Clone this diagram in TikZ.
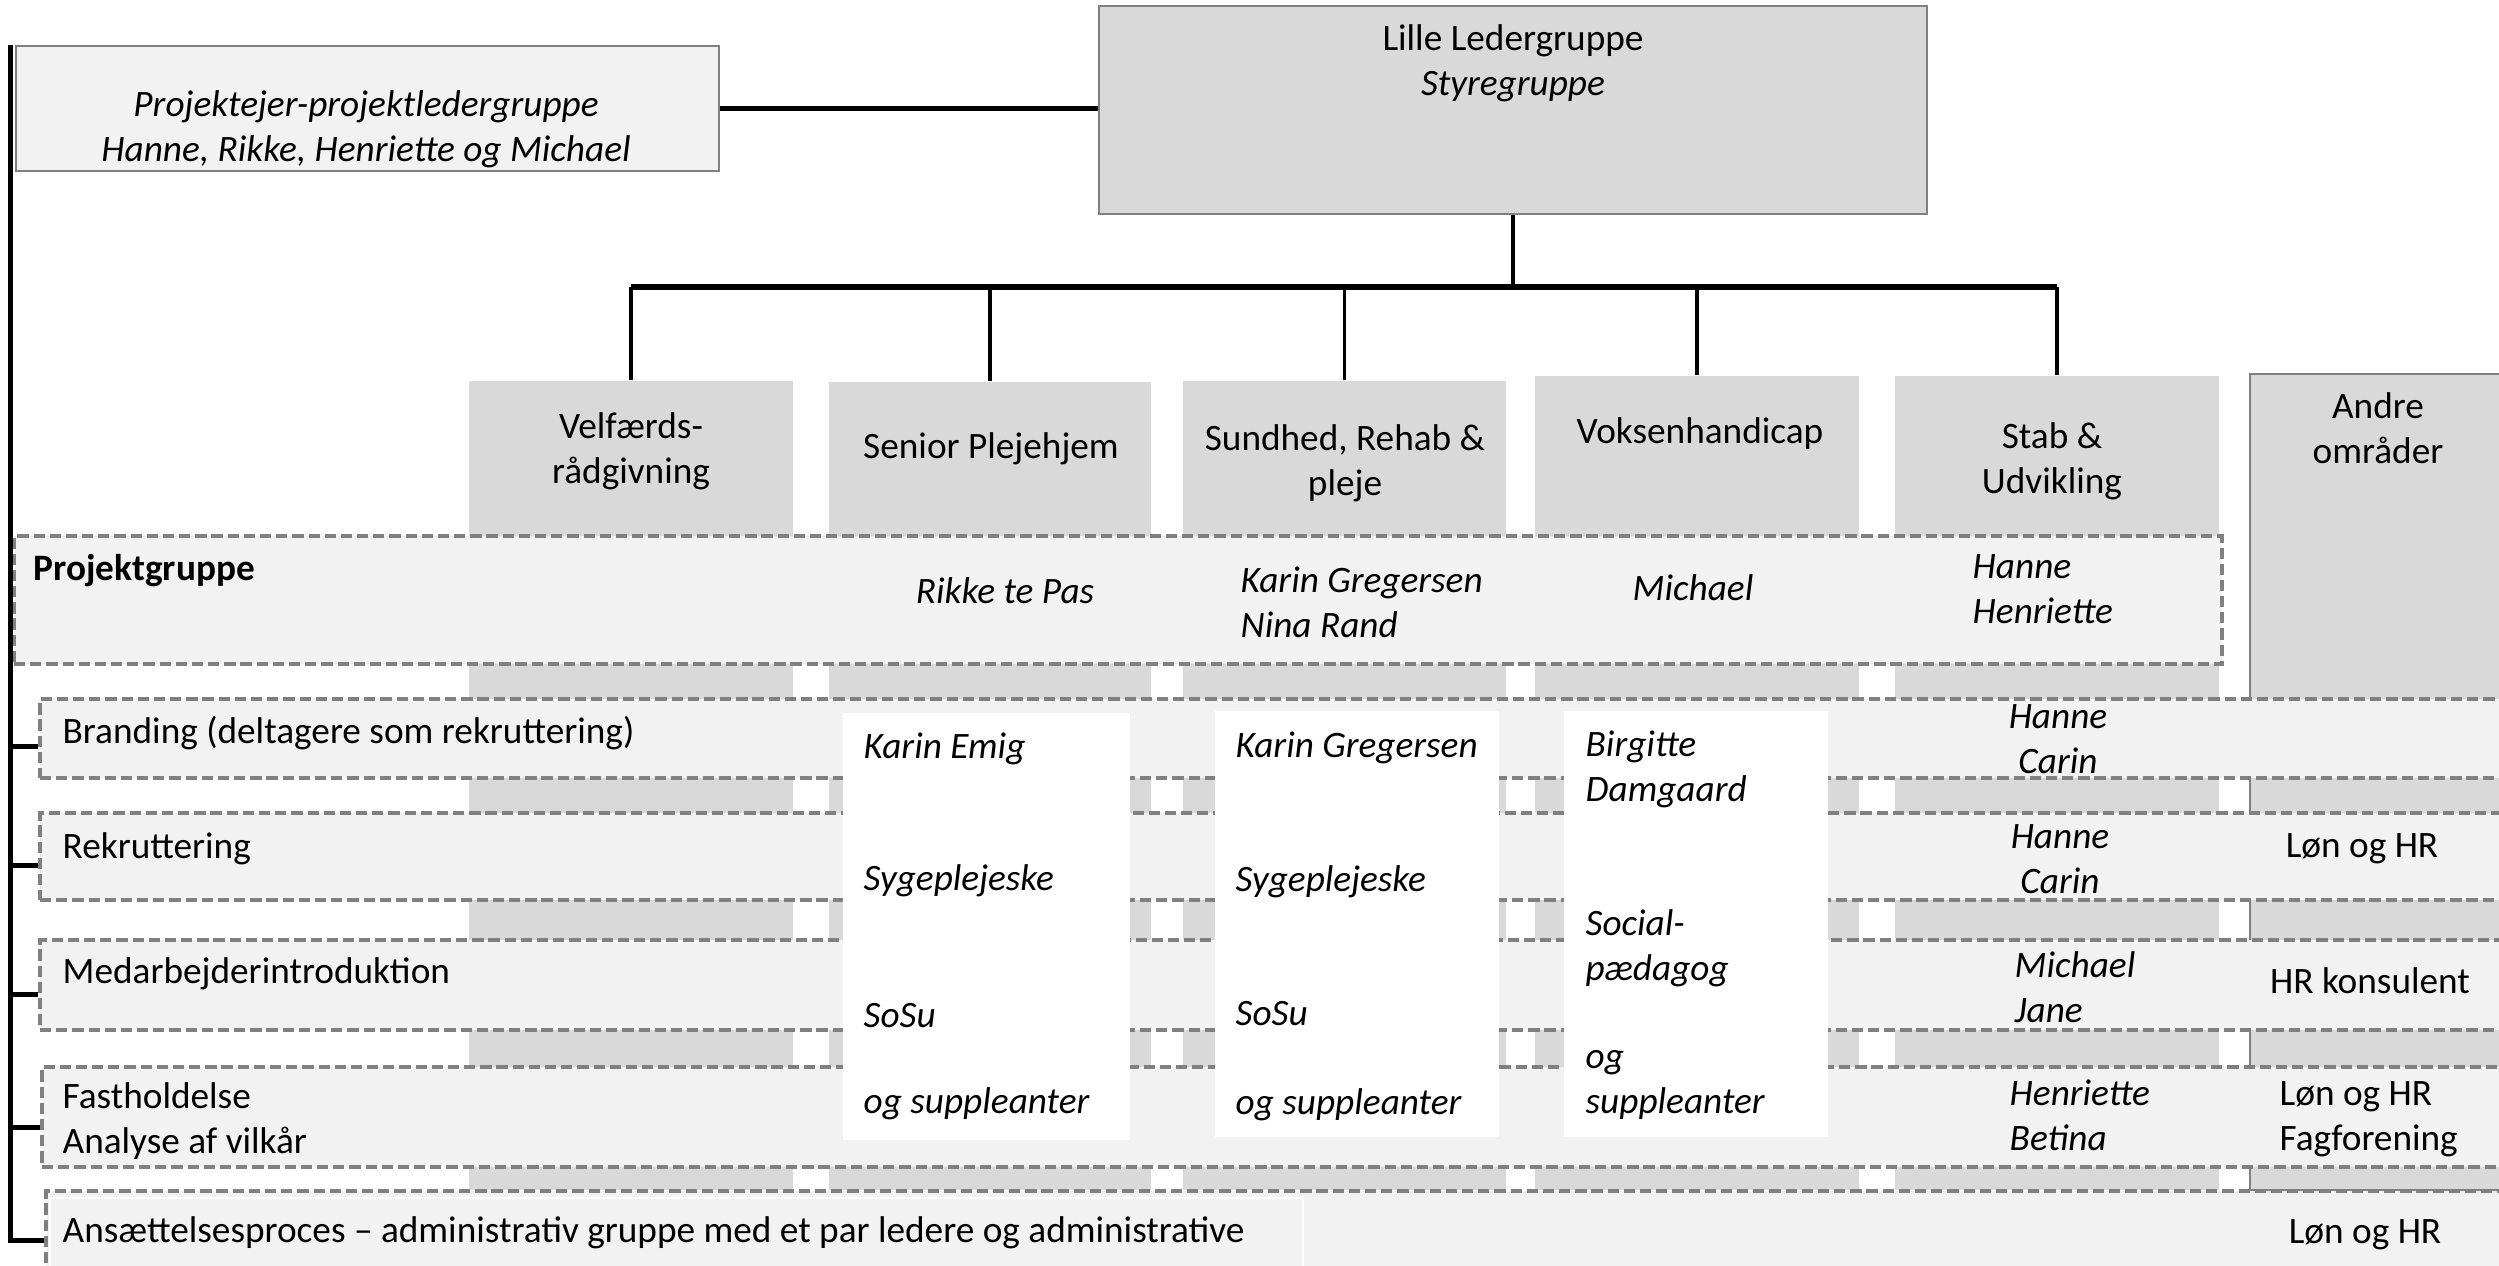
\documentclass[tikz,border=0pt]{standalone}
\usepackage{fontspec}
\setmainfont{Carlito}
\usetikzlibrary{fit,calc}
\definecolor{colgray}{HTML}{D9D9D9}
\definecolor{rowgray}{HTML}{F2F2F2}
\definecolor{linegray}{HTML}{808080}

\begin{document}
\begin{tikzpicture}[
            x = 0.01cm, y = -0.01cm,
            ptxt/.style = {font = \fontsize{10.6pt}{12.6pt}\selectfont, inner sep = 0pt},
            itxt/.style = {ptxt, font = \fontsize{10.6pt}{12.6pt}\selectfont\itshape},
            lft/.style = {anchor = base west, align = left},
            ctr/.style = {anchor = base, align = center},
            col/.style = {fill = colgray, inner sep = 0pt},
            grp/.style = {fill = rowgray, draw = linegray, line width = 1pt, dash pattern = on 3.2pt off 1.4pt, inner sep = 0pt},
            wbox/.style = {fill = white, inner sep = 0pt},
            topbox/.style = {draw = linegray, line width = 0.8pt, inner sep = 0pt},
            link/.style = {draw, line width = 1.4pt},
            drop/.style = {draw, line width = 0.9pt}
        ]
        \useasboundingbox (0,0) rectangle (2499,1265);
        \clip (0,0) rectangle (2499,1265);

        \node[col, fit = {(469,381) (793,1190)}] (velf) {};
        \node[col, fit = {(829,382) (1151,1190)}] (senior) {};
        \node[col, fit = {(1183,381) (1506,1190)}] (sund) {};
        \node[col, fit = {(1535,376) (1859,1190)}] (voks) {};
        \node[col, fit = {(1895,376) (2219,1190)}] (stab) {};
        \node[col, draw = linegray, line width = 0.6pt, fit = {(2250,374) (2530,1190)}] (andre) {};

        \node[grp, fit = {(14,536) (2222,664)}] (pg) {};
        \node[grp, fit = {(40,699) (2530,778)}] (brand) {};
        \node[grp, fit = {(40,813) (2530,900)}] (rekr) {};
        \node[grp, fit = {(40,940) (2530,1030)}] (medarb) {};
        \node[grp, fit = {(42,1067) (2530,1167)}] (fast) {};
        \node[grp, fit = {(46,1191) (2530,1290)}] (ans) {};
        \node[fill = rowgray, draw = white, line width = 0.6pt, inner sep = 0pt, fit = {(50,1198) (1303,1275)}] (ansin) {};

        \node[wbox, fit = {(843,713) (1130,1140)}] (wbsen) {};
        \node[wbox, fit = {(1215,711) (1499,1137)}] (wbsund) {};
        \node[wbox, fit = {(1564,711) (1828,1137)}] (wbvoks) {};

        \node[topbox, fill = rowgray, fit = {(16,46) (719,171)}] (pe) {};
        \node[topbox, fill = colgray, fit = {(1099,6) (1927,214)}] (lille) {};

        \node[itxt, ctr] (pet) at (366,161) {Projektejer-projektledergruppe\\Hanne, Rikke, Henriette og Michael};
        \node[ptxt, ctr] (llt) at (1513,95) {Lille Ledergruppe\\\textit{Styregruppe}};

        \node[ptxt, ctr] (velft) at (631,483) {Velfærds-\\rådgivning};
        \node[ptxt, ctr] (sent) at (991,458) {Senior Plejehjem};
        \node[ptxt, ctr] (sundt) at (1345,495) {Sundhed, Rehab \&\\pleje};
        \node[ptxt, ctr] (vokst) at (1700,443) {Voksenhandicap};
        \node[ptxt, ctr] (stabt) at (2052,493) {Stab \&\\Udvikling};
        \node[ptxt, ctr] (andret) at (2378,463) {Andre\\områder};

        \node[ptxt, lft, font = \fontsize{10.6pt}{12.6pt}\selectfont\bfseries] (pgt) at (33,580) {Projektgruppe};
        \node[itxt, ctr] (rikke) at (1005,603) {Rikke te Pas};
        \node[itxt, lft] (karnin) at (1240,637) {Karin Gregersen\\Nina Rand};
        \node[itxt, ctr] (michpg) at (1693,600) {Michael};
        \node[itxt, lft] (hanhen) at (1972,623) {Hanne\\Henriette};

        \node[ptxt, lft] (brandt) at (62,743) {Branding (deltagere som rekruttering)};
        \node[itxt, ctr] (hancarb) at (2058,773) {Hanne\\Carin};
        \node[ptxt, lft] (rekrt) at (62,858) {Rekruttering};
        \node[itxt, ctr] (hancarr) at (2060,893) {Hanne\\Carin};
        \node[ptxt, ctr] (lonr) at (2362,857) {Løn og HR};
        \node[ptxt, lft] (medt) at (62,983) {Medarbejderintroduktion};
        \node[itxt, lft] (micjan) at (2014,1022) {Michael\\Jane};
        \node[ptxt, ctr] (hrk) at (2370,993) {HR konsulent};
        \node[ptxt, lft] (fastt) at (62,1153) {Fastholdelse\\Analyse af vilkår};
        \node[itxt, lft] (henbet) at (2009,1150) {Henriette\\Betina};
        \node[ptxt, lft] (lonfag) at (2279,1150) {Løn og HR\\Fagforening};
        \node[ptxt, lft] (anst) at (62,1242) {Ansættelsesproces -- administrativ gruppe med et par ledere og administrative};
        \node[ptxt, ctr] (lona) at (2365,1243) {Løn og HR};

        \node[itxt, lft] (sena) at (863,758) {Karin Emig};
        \node[itxt, lft] (senb) at (863,890) {Sygeplejeske};
        \node[itxt, lft] (senc) at (863,1027) {SoSu};
        \node[itxt, lft] (send) at (863,1113) {og suppleanter};
        \node[itxt, lft] (sunda) at (1235,757) {Karin Gregersen};
        \node[itxt, lft] (sundb) at (1235,891) {Sygeplejeske};
        \node[itxt, lft] (sundc) at (1235,1025) {SoSu};
        \node[itxt, lft] (sundd) at (1235,1114) {og suppleanter};
        \node[itxt, lft] (voksa) at (1585,801) {Birgitte\\Damgaard};
        \node[itxt, lft] (voksb) at (1585,980) {Social-\\pædagog};
        \node[itxt, lft] (voksc) at (1585,1113) {og\\suppleanter};

        \coordinate (bus) at (lille.south |- 0,287);
        \path (pe.east) edge[link, line width = 1.3pt] (pe.east -| lille.west);
        \path (lille.south) edge[link] (bus);
        \path (velf.north |- bus) edge[link, line width = 1.7pt] (stab.north |- bus);
        \path (velf.north |- bus) edge[drop] (velf.north);
        \path (senior.north |- bus) edge[drop] (senior.north);
        \path (sund.north |- bus) edge[drop] (sund.north);
        \path (voks.north |- bus) edge[drop] (voks.north);
        \path (stab.north |- bus) edge[drop] (stab.north);

        \coordinate (tbrand) at ($(brand.north west)!0.6!(brand.south west)$);
        \coordinate (trekr) at ($(rekr.north west)!0.6!(rekr.south west)$);
        \coordinate (tmed) at ($(medarb.north west)!0.6!(medarb.south west)$);
        \coordinate (tfast) at ($(fast.north west)!0.6!(fast.south west)$);
        \draw[link] ([xshift = -1.2pt]pe.north west) |- (ans.west);
        \draw[link] ([xshift = -1.2pt]pe.north west |- tbrand) -- (tbrand);
        \draw[link] ([xshift = -1.2pt]pe.north west |- trekr) -- (trekr);
        \draw[link] ([xshift = -1.2pt]pe.north west |- tmed) -- (tmed);
        \draw[link] ([xshift = -1.2pt]pe.north west |- tfast) -- (tfast);
    \end{tikzpicture}
\end{document}
